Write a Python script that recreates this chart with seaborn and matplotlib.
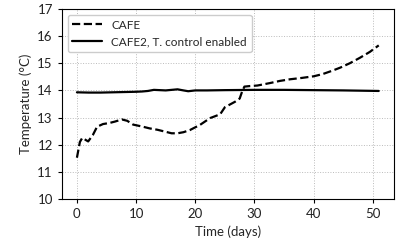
import pandas as pd
import seaborn as sns
import matplotlib
import matplotlib.pyplot as plt

# CAFE run (no temperature control)
cafe_days = [0, 0.5, 0.9, 1.9, 2.7, 3.4, 4.4, 5.5, 6.4, 7.6, 8.5, 9.5, 11, 12.3, 13.6, 14.9,
             16, 17, 18, 19.1, 20.8, 22.5, 24.2, 25, 26.7, 27.5, 27.9, 28.3, 29.2, 30.5,
             32.6, 34.3, 36, 38, 40, 41.5, 43.2, 44.5, 46.1, 47.8, 49.5, 51]
cafe_temp = [11.52, 12.1, 12.25, 12.12, 12.36, 12.66, 12.76, 12.8, 12.85, 12.93, 12.88, 12.74,
             12.67, 12.6, 12.55, 12.48, 12.42, 12.42, 12.46, 12.54, 12.73, 12.98, 13.12, 13.38,
             13.58, 13.7, 13.95, 14.14, 14.16, 14.18, 14.27, 14.35, 14.41, 14.46, 14.52, 14.6,
             14.73, 14.84, 15.0, 15.2, 15.42, 15.66]

# CAFE2 run with temperature control enabled
cafe2_days = [0, 2, 4, 6, 8, 10, 11, 12, 13, 14, 15, 16, 17, 18, 18.8, 20, 22, 25,
              30, 35, 40, 45, 51]
cafe2_temp = [13.93, 13.92, 13.92, 13.93, 13.94, 13.95, 13.96, 13.98, 14.02, 14.01, 14.0,
              14.02, 14.04, 14.0, 13.97, 14.0, 14.0, 14.01, 14.02, 14.02, 14.01, 14.0, 13.98]

sns.set_style('ticks')
matplotlib.rcParams['font.family'] = ['Lato', 'DejaVu Sans']
matplotlib.rcParams['font.size'] = 9.5

fig, ax = plt.subplots(figsize=(4.15, 2.4), dpi=100)
fig.subplots_adjust(left=0.149, right=0.949, top=0.9625, bottom=0.171)

sns.lineplot(x=cafe_days, y=cafe_temp, ax=ax, color='black', linestyle='--',
             linewidth=1.6, label='CAFE')
sns.lineplot(x=cafe2_days, y=cafe2_temp, ax=ax, color='black', linestyle='-',
             linewidth=1.6, label='CAFE2, T. control enabled')

ax.set_ylim(10, 17)
ax.set_xticks([0, 10, 20, 30, 40, 50])
ax.set_yticks(range(10, 18))
ax.grid(True, linestyle=':', color='#bbbbbb', linewidth=0.7)
ax.set_xlabel('Time (days)')
ax.set_ylabel('Temperature (°C)')
for sp in ax.spines.values():
    sp.set_visible(True)
    sp.set_color('black')
ax.tick_params(length=3, width=0.8, colors='black', labelcolor='#222222')
ax.legend(loc='upper left', frameon=True, fancybox=True, edgecolor='#cccccc',
          framealpha=1, handlelength=2.5, fontsize=8.5)

plt.savefig('out.png', dpi=100)
